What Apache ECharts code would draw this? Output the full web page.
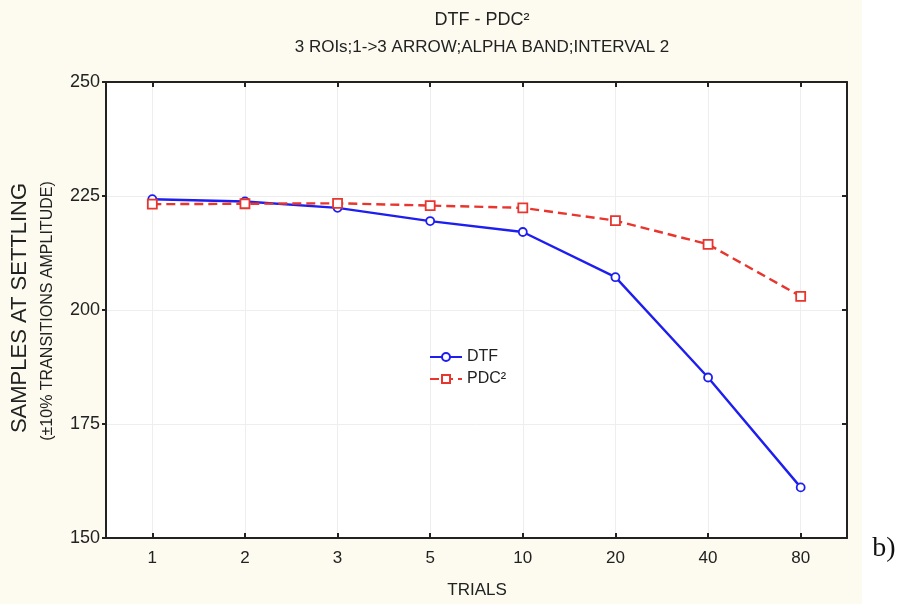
<!DOCTYPE html>
<html><head><meta charset="utf-8">
<script src="https://cdn.jsdelivr.net/npm/echarts@6/dist/echarts.min.js"></script>
<style>html,body{margin:0;padding:0;background:#fff}#c{width:904px;height:604px}</style>
</head><body><div id="c"></div>
<script>
const categories = ['1','2','3','5','10','20','40','80'];
const dtf = [224.3, 223.8, 222.4, 219.5, 217.1, 207.2, 185.2, 161.1];
const pdc2 = [223.2, 223.3, 223.4, 222.9, 222.4, 219.6, 214.4, 203.0];
const yTicks = [150, 175, 200, 225, 250];

const chart = echarts.init(document.getElementById('c'), null, {renderer:'canvas'});
const font = 'Liberation Sans, Arial, sans-serif';
const axisBase = {
  axisLine:{show:true,onZero:false,lineStyle:{color:'#222',width:2}},
  axisLabel:{show:false},
};
chart.setOption({
  animation:false,
  backgroundColor:'#fff',
  graphic:[
    {type:'rect',z:-10,shape:{x:0,y:0,width:862,height:604},style:{fill:'#fdfbf0'}},
    {type:'rect',z:-9,shape:{x:106,y:82,width:741,height:456},style:{fill:'#ffffff'}},
    {type:'text',x:482,y:20,style:{text:'DTF - PDC²',font:'18px '+font,fill:'#222',align:'center',verticalAlign:'middle'}},
    {type:'text',x:482,y:47,style:{text:'3 ROIs;1->3 ARROW;ALPHA BAND;INTERVAL 2',font:'17px '+font,fill:'#222',align:'center',verticalAlign:'middle'}},
    {type:'text',x:20,y:308,rotation:Math.PI/2,style:{text:'SAMPLES AT SETTLING',font:'22px '+font,fill:'#222',align:'center',verticalAlign:'middle'}},
    {type:'text',x:48,y:311,rotation:Math.PI/2,style:{text:'(±10% TRANSITIONS AMPLITUDE)',font:'16px '+font,fill:'#222',align:'center',verticalAlign:'middle'}},
    {type:'text',x:477,y:590,style:{text:'TRIALS',font:'17px '+font,fill:'#222',align:'center',verticalAlign:'middle'}},
    {type:'text',x:884,y:549,style:{text:'b)',font:'28px Liberation Serif, DejaVu Serif, serif',fill:'#111',align:'center',verticalAlign:'middle'}}
  ],
  grid:{left:106,right:57,top:82,bottom:66},
  legend:{
    left:424,top:344,orient:'vertical',itemGap:6,itemWidth:32,itemHeight:10,
    textStyle:{fontFamily:font,fontSize:16,color:'#222'},
    data:[{name:'DTF'},{name:'PDC²'}]
  },
  xAxis:[
    Object.assign({}, axisBase, {type:'category',data:categories,position:'bottom',boundaryGap:true,
      axisTick:{show:true,inside:true,alignWithLabel:true,length:5,lineStyle:{color:'#222',width:2}},
      axisLabel:{show:true,margin:12,fontFamily:font,fontSize:17,color:'#222'},
      splitLine:{show:true,alignWithLabel:true,lineStyle:{color:'#eeeeee',width:1}}}),
    Object.assign({}, axisBase, {type:'category',data:categories,position:'top',boundaryGap:true,
      axisTick:{show:true,inside:true,alignWithLabel:true,length:5,lineStyle:{color:'#222',width:2}}})
  ],
  yAxis:[
    Object.assign({}, axisBase, {type:'value',min:150,max:250,interval:25,position:'left',
      axisTick:{show:true,inside:false,length:4,lineStyle:{color:'#222',width:2}},
      axisLabel:{show:true,margin:6,fontFamily:font,fontSize:18,color:'#222',
        formatter:v=>yTicks.includes(v)?String(v):''},
      splitLine:{show:true,lineStyle:{color:'#eeeeee',width:1}}}),
    Object.assign({}, axisBase, {type:'value',min:150,max:250,interval:25,position:'right',
      axisTick:{show:true,inside:true,length:5,lineStyle:{color:'#222',width:2}},
      splitLine:{show:false}})
  ],
  series:[
    {name:'DTF',type:'line',data:dtf,symbol:'circle',symbolSize:8,
      lineStyle:{color:'#1e1ef0',width:2.4},itemStyle:{color:'#fff',borderColor:'#1e1ef0',borderWidth:1.8},
      color:'#1e1ef0'},
    {name:'PDC²',type:'line',data:pdc2,symbol:'rect',symbolSize:9,
      lineStyle:{color:'#e8352e',width:2.4,type:[9,5]},itemStyle:{color:'#fff',borderColor:'#e8352e',borderWidth:1.8},
      color:'#e8352e'}
  ]
});
</script></body></html>
